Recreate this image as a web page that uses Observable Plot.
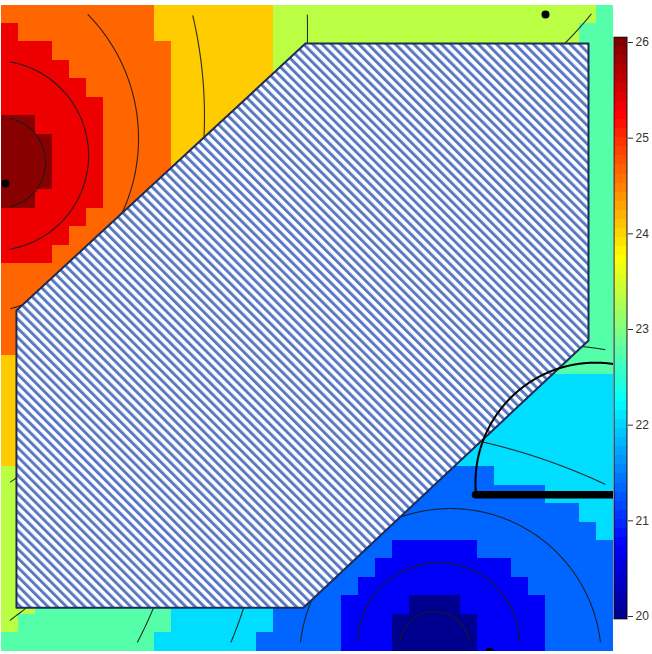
<!DOCTYPE html>
<html>
<head>
<meta charset="utf-8">
<script src="https://cdn.jsdelivr.net/npm/d3@7"></script>
<script src="https://cdn.jsdelivr.net/npm/@observablehq/plot@0.6"></script>
<style>
  html, body { margin: 0; padding: 0; background: #fff; }
  #wrap { position: relative; width: 652px; height: 654px; overflow: hidden; }
  #wrap svg { position: absolute; top: 0; }
</style>
</head>
<body>
<div id="wrap"></div>
<script>
// ---- data ---------------------------------------------------------------
// value of each colour class seen in the raster (code 0..9)
const levelValues = [20.0, 20.7, 21.35, 22.05, 22.75, 23.35, 24.05, 24.65, 25.35, 25.95];

// raster rows (top to bottom), 36 columns, run-length coded "code:count";
// "." = cells hidden under the hatched polygon
const gridRows = [
  "7:9 6:7 5:19 4:1",
  "8:1 7:8 6:7 5:18 4:2",
  "8:3 7:7 6:6 5:18 4:2",
  "8:4 7:6 6:6 5:2 .:16 4:2",
  "8:5 7:5 6:6 .:18 4:2",
  "8:6 7:4 6:5 .:19 4:2",
  "9:2 8:4 7:4 6:4 .:20 4:2",
  "9:3 8:3 7:4 6:3 .:21 4:2",
  "9:3 8:3 7:4 6:1 .:23 4:2",
  "9:3 8:3 7:4 .:24 4:2",
  "9:2 8:4 7:3 .:25 4:2",
  "8:5 7:3 .:26 4:2",
  "8:4 7:3 .:27 4:2",
  "8:3 7:3 .:28 4:2",
  "7:4 .:30 4:2",
  "7:3 .:31 4:2",
  "7:2 .:32 4:2",
  "7:1 .:33 4:2",
  "7:1 .:32 4:3",
  "6:1 .:31 4:4",
  "6:1 .:30 3:5",
  "6:1 .:29 3:6",
  "6:1 .:27 3:8",
  "6:1 .:26 3:9",
  "6:1 .:25 3:10",
  "5:1 .:24 2:4 3:7",
  "5:1 .:23 2:8 3:4",
  "5:1 .:22 2:11 3:2",
  "5:1 .:20 2:14 3:1",
  "5:1 .:19 2:3 1:5 2:8",
  "5:1 .:18 2:3 1:8 2:6",
  "5:1 .:17 2:3 1:10 2:5",
  "5:2 4:8 3:6 2:4 1:4 0:3 1:5 2:4",
  "5:1 4:9 3:6 2:4 1:3 0:5 1:4 2:4",
  "4:9 3:6 2:5 1:3 0:5 1:4 2:4"
];

// colour scale (jet / tim.colors)
const jetStops  = [20, 20.75, 22.25, 23.75, 25.25, 26];
const jetColors = ["#00008F", "#0000FF", "#00FFFF", "#FFFF00", "#FF0000", "#800000"];
const legendTicks = [20, 21, 22, 23, 24, 25, 26];
const legendRange = [19.97, 26.05];

// hatched polygon (grid units: column, row)
const polyX = [0.88, 17.88, 34.53, 34.53, 17.76, 0.88];
const polyY = [16.55, 2.09, 2.09, 18.17, 32.64, 32.64];

// contour arcs: centre, radii (grid units), angle range in degrees
const contourCx   = [-0.06, -0.47, -2.35, -14.0, -25.12, 26.41, 25.71, 25.47, 20.29, -12.82, -8.18, 16.29, 32.44];
const contourCy   = [8.53, 8.15, 7.23, 6.04, 1.38, 35.45, 34.59, 34.75, 55.82, 24.40, 26.08, -13.35, 34.67];
const contourRx   = [2.65, 5.59, 10.41, 25.94, 43.12, 8.88, 4.76, 2.06, 35.82, 23.53, 23.53, 23.76, 17.65];
const contourRy   = [2.44, 5.15, 9.59, 23.89, 39.71, 8.18, 4.39, 1.90, 32.99, 21.67, 21.67, 21.88, 16.25];
const contourFrom = [-180, -180, -180, -180, -180, -180, -180, -180, -80, 15, 10, 30, -95];
const contourTo   = [180, 180, 180, 180, 180, 180, 180, 180, -60, 35, 30, 55, -78];

// thick arc and bar
const arcCx = 34.94, arcCy = 25.87, arcRx = 7.06, arcRy = 6.50, arcFrom = 174, arcTo = 282;
const barX = [27.88, 36.3];
const barY = [26.52, 26.52];

// observation points
const dotX = [0.24, 32.0, 28.71];
const dotY = [9.67, 0.51, 35.02];

// ---- build tables -------------------------------------------------------
const cells = [];
gridRows.forEach((row, r) => {
  let c = 0;
  row.split(" ").forEach(tok => {
    const [code, n] = tok.split(":");
    for (let k = 0; k < +n; k++, c++) {
      if (code !== ".") cells.push({c, r, v: levelValues[+code]});
    }
  });
});

const polygon = polyX.map((x, i) => ({x, y: polyY[i]}));

function arcPoints(cx, cy, rx, ry, a0, a1, id, clipInner) {
  const pts = [];
  const n = 1500;
  for (let j = 0; j <= n; j++) {
    const a = (a0 + (a1 - a0) * j / n) * Math.PI / 180;
    const x = cx + rx * Math.cos(a), y = cy + ry * Math.sin(a);
    const ok = !clipInner || (x >= 0.5 && x <= 35.5 && y >= 0.5 && y <= 34.5);
    pts.push({id, x: ok ? x : NaN, y: ok ? y : NaN});
  }
  return pts;
}
const contourPts = contourCx.flatMap((cx, i) =>
  arcPoints(cx, contourCy[i], contourRx[i], contourRy[i], contourFrom[i], contourTo[i], i, true));
const thickArc = arcPoints(arcCx, arcCy, arcRx, arcRy, arcFrom, arcTo, 0, false);
const bar = barX.map((x, i) => ({x, y: barY[i]}));
const dots = dotX.map((x, i) => ({x, y: dotY[i]}));

const colorOpts = {type: "linear", domain: jetStops, range: jetColors, interpolate: "rgb"};

// ---- main panel ---------------------------------------------------------
const main = Plot.plot({
  width: 652, height: 654,
  marginLeft: 1, marginRight: 39, marginTop: 4.5, marginBottom: 3.2,
  style: {background: "white"},
  x: {domain: [0, 36], axis: null},
  y: {domain: [0, 35], reverse: true, axis: null},
  color: colorOpts,
  marks: [
    Plot.rect(cells, {x1: "c", x2: d => d.c + 1, y1: "r", y2: d => d.r + 1, fill: "v", shapeRendering: "crispEdges"}),
    Plot.line(contourPts, {x: "x", y: "y", z: "id", stroke: "#1a1a1a", strokeWidth: 1.1, strokeOpacity: 0.9}),
    Plot.line(polygon, {x: "x", y: "y", curve: "linear-closed", fill: "url(#hatch)", stroke: "#1f2b58", strokeWidth: 2}),
    Plot.line(thickArc, {x: "x", y: "y", stroke: "#000", strokeWidth: 2, clip: true}),
    Plot.line(bar, {x: "x", y: "y", stroke: "#000", strokeWidth: 7.5, strokeLinecap: "round", clip: true}),
    Plot.dot(dots, {x: "x", y: "y", r: 4, fill: "#000", stroke: "none", clip: true})
  ]
});

// hatch pattern for the polygon
const ns = "http://www.w3.org/2000/svg";
const defs = document.createElementNS(ns, "defs");
const pat = document.createElementNS(ns, "pattern");
pat.setAttribute("id", "hatch");
pat.setAttribute("patternUnits", "userSpaceOnUse");
pat.setAttribute("width", "6.5");
pat.setAttribute("height", "10");
pat.setAttribute("patternTransform", "rotate(-45)");
const bg = document.createElementNS(ns, "rect");
bg.setAttribute("width", "6.5"); bg.setAttribute("height", "10"); bg.setAttribute("fill", "#ffffff");
const st = document.createElementNS(ns, "rect");
st.setAttribute("width", "3"); st.setAttribute("height", "10"); st.setAttribute("fill", "#5a79c4");
pat.appendChild(bg); pat.appendChild(st); defs.appendChild(pat);
main.insertBefore(defs, main.firstChild);

// ---- colour bar ---------------------------------------------------------
const nBins = 64;
const bins = d3.range(nBins).map(i => {
  const a = legendRange[0] + (legendRange[1] - legendRange[0]) * i / nBins;
  const b = legendRange[0] + (legendRange[1] - legendRange[0]) * (i + 1) / nBins;
  return {y1: a, y2: b, v: (a + b) / 2};
});
const bar2 = Plot.plot({
  width: 52, height: 654,
  marginLeft: 14, marginRight: 25, marginTop: 0, marginBottom: 0,
  style: {background: "transparent", fontFamily: "'Liberation Sans', Arial, Helvetica, sans-serif", color: "#333"},
  x: {domain: [0, 1], axis: null},
  y: {domain: [20, 26], range: [616, 42], axis: null},
  color: colorOpts,
  marks: [
    Plot.rect(bins, {x1: 0, x2: 1, y1: "y1", y2: "y2", fill: "v", shapeRendering: "crispEdges"}),
    Plot.rect([legendRange], {x1: 0, x2: 1, y1: d => d[0], y2: d => d[1], fill: "none", stroke: "#111", strokeWidth: 1}),
    Plot.axisY(legendTicks, {anchor: "right", tickSize: 5, tickPadding: 3, fontSize: 12, label: null, stroke: "#333", tickFormat: d => String(d)})
  ]
});

const wrap = document.getElementById("wrap");
main.style.left = "0px";
bar2.style.left = "600px";
wrap.appendChild(main);
wrap.appendChild(bar2);
</script>
</body>
</html>
